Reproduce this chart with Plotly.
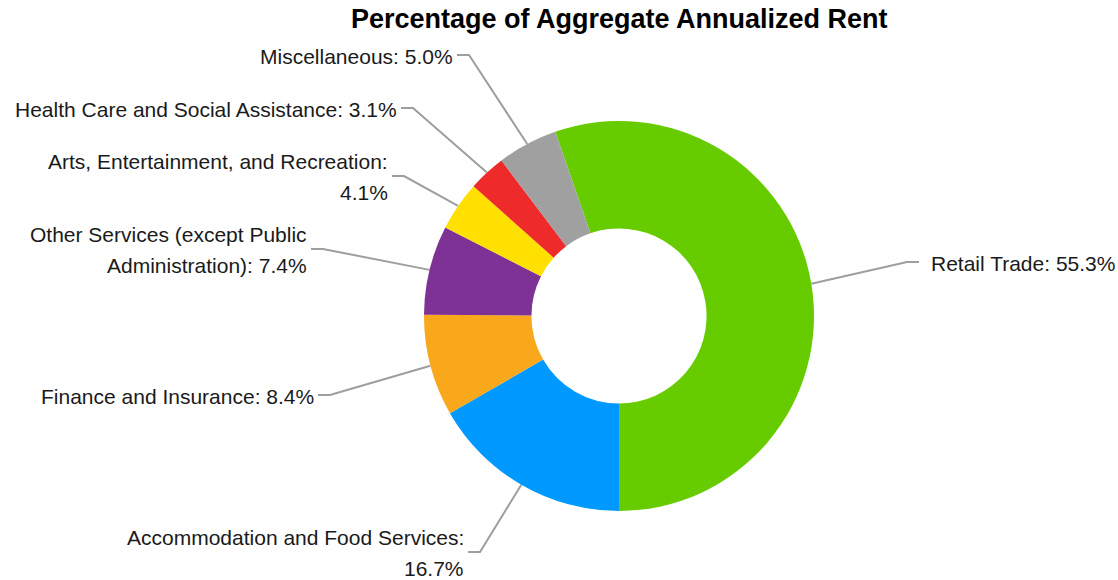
import math
import textwrap
import plotly.graph_objects as go

# ---------------- data ----------------
categories = [
    "Retail Trade",
    "Accommodation and Food Services",
    "Finance and Insurance",
    "Other Services (except Public Administration)",
    "Arts, Entertainment, and Recreation",
    "Health Care and Social Assistance",
    "Miscellaneous",
]
shares = [55.3, 16.7, 8.4, 7.4, 4.1, 3.1, 5.0]
title_text = "Percentage of Aggregate Annualized Rent"

# ---------------- style / layout ----------------
colors = ["#66CC00", "#0099FF", "#F9A81B", "#7F3295", "#FFE000", "#EE2A2A", "#A0A0A0"]
W, H = 1118, 580
CX, CY, R = 619, 316, 195          # pie centre and radius in pixels
HOLE = 0.449
FONT = "Arial, Liberation Sans, sans-serif"
LABEL_SIZE = 21
LINE_GAP = 31
CONN_COLOR = "#9E9E9E"
# connector elbow points (px) and side of each label
elbows = [(907, 262), (480, 552), (330, 395), (323, 249), (404, 176), (413, 108), (469, 55)]
sides = ["right", "left", "left", "left", "left", "left", "left"]
wrap_widths = [40, 36, 40, 36, 36, 40, 40]
HSEG = 12

total = sum(shares)
rotation = 180 - 360 * shares[0] / total   # first slice ends at 6 o'clock

fig = go.Figure()

fig.add_trace(go.Pie(
    labels=categories,
    values=shares,
    sort=False,
    direction="clockwise",
    rotation=rotation,
    hole=HOLE,
    marker=dict(colors=colors, line=dict(width=0)),
    textinfo="none",
    hoverinfo="label+percent",
    showlegend=False,
    domain=dict(x=[(CX - R) / W, (CX + R) / W], y=[(H - CY - R) / H, (H - CY + R) / H]),
))

annotations = []
cum = 0.0
for cat, val, (ex, ey), side, ww in zip(categories, shares, elbows, sides, wrap_widths):
    mid = rotation + 360 * (cum + val / 2) / total
    cum += val
    a = math.radians(mid)
    px = CX + R * math.sin(a)
    py = CY - R * math.cos(a)
    endx = ex + HSEG if side == "right" else ex - HSEG
    fig.add_trace(go.Scatter(
        x=[px, ex, endx], y=[py, ey, ey], mode="lines",
        line=dict(color=CONN_COLOR, width=2), hoverinfo="skip", showlegend=False,
        xaxis="x", yaxis="y",
    ))
    text = f"{cat}: {val:.1f}%"
    lines = textwrap.wrap(text, width=ww)
    n = len(lines)
    for i, ln in enumerate(lines):
        ly = ey + (i - (n - 1) / 2) * LINE_GAP + 1
        if side == "right":
            tx, anchor = endx + 10, "left"
        else:
            tx, anchor = endx - 2, "right"
        annotations.append(dict(
            x=tx, y=ly, xref="x", yref="y", text=ln, showarrow=False,
            xanchor=anchor, yanchor="middle",
            font=dict(family=FONT, size=LABEL_SIZE, color="#1a1a1a"),
        ))

annotations.append(dict(
    x=CX, y=19, xref="x", yref="y", text=f"<b>{title_text}</b>", showarrow=False,
    xanchor="center", yanchor="middle",
    font=dict(family=FONT, size=27, color="#000000"),
))

fig.update_layout(
    width=W, height=H,
    margin=dict(l=0, r=0, t=0, b=0),
    paper_bgcolor="white", plot_bgcolor="rgba(0,0,0,0)",
    xaxis=dict(range=[0, W], visible=False, fixedrange=True, domain=[0, 1]),
    yaxis=dict(range=[H, 0], visible=False, fixedrange=True, domain=[0, 1]),
    annotations=annotations,
    showlegend=False,
)

fig.write_html(
    "out.html",
    config={"displayModeBar": False},
    post_script="document.body.style.margin='0';document.documentElement.style.overflow='hidden';",
)
